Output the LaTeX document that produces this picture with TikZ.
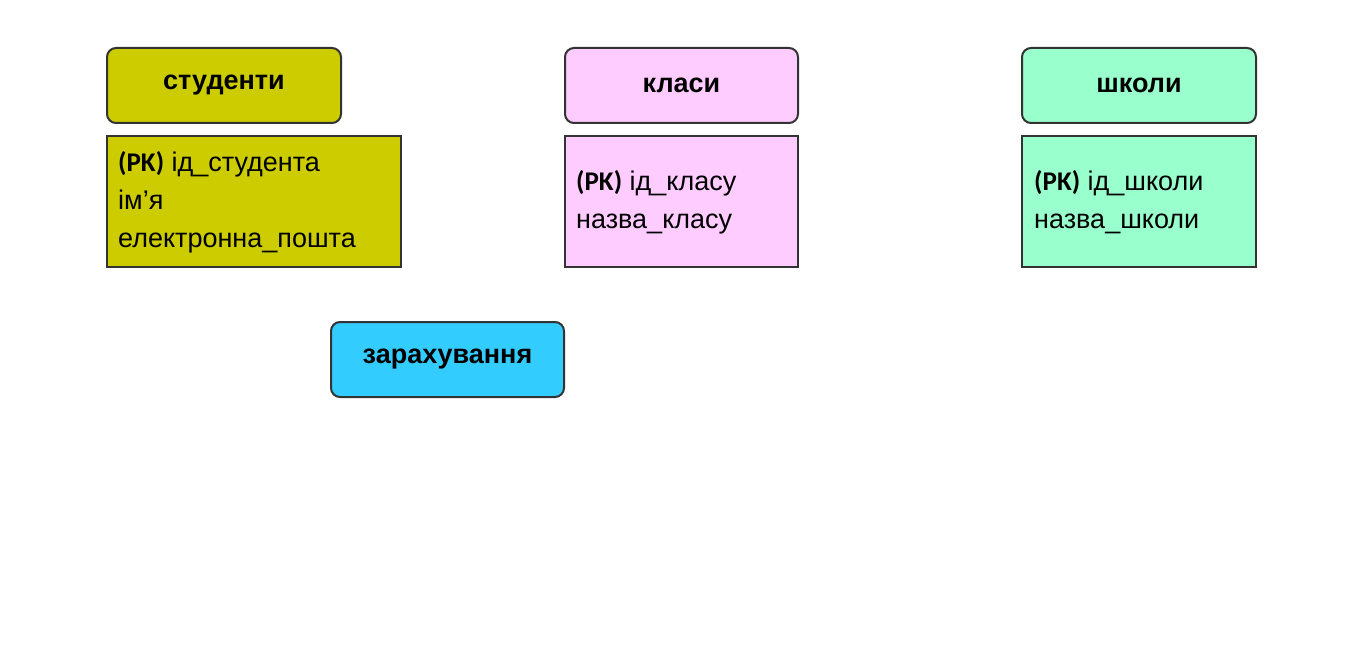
\documentclass[tikz,border=0pt]{standalone}
\usepackage{fontspec}
\setmainfont{Liberation Sans}
\newfontfamily\pkfont{Carlito}
\definecolor{cOl}{HTML}{CCCC00}
\definecolor{cPk}{HTML}{FFCCFF}
\definecolor{cGr}{HTML}{99FFCC}
\definecolor{cBl}{HTML}{33CCFF}
\begin{document}
\begin{tikzpicture}[x=1pt,y=-1pt,
  hdr/.style={draw=black!80,line width=2pt,rounded corners=9pt,font=\fontsize{27}{32}\selectfont\bfseries,align=center},
  bdy/.style={draw=black!80,line width=2pt,font=\fontsize{27}{38}\selectfont,align=left,anchor=north west,inner sep=0pt}]
\useasboundingbox (0,0) rectangle (1362,666);
\fill[white] (0,0) rectangle (1362,666);
% headers
\draw[hdr,fill=cOl] (107,48) rectangle (341,123) node[midway,draw=none] (hs) {студенти};
\draw[hdr,fill=cPk] (565,48) rectangle (798,123) node[midway,draw=none] (hk) {класи};
\draw[hdr,fill=cGr] (1022,48) rectangle (1256,123) node[midway,draw=none] (hsh) {школи};
\draw[hdr,fill=cBl] (331,322) rectangle (564,397) node[midway,draw=none] (hz) {зарахування};
% bodies
\draw[draw=black!80,line width=2pt,fill=cOl] (107,136) rectangle (401,267);
\draw[draw=black!80,line width=2pt,fill=cPk] (565,136) rectangle (798,267);
\draw[draw=black!80,line width=2pt,fill=cGr] (1022,136) rectangle (1256,267);
\node[anchor=west,font=\fontsize{27}{38}\selectfont,align=left,inner sep=0pt] (bs) at (118,202)
  {{\pkfont\bfseries (PK)} ід\_студента\\ім'я\\електронна\_пошта};
\node[anchor=west,font=\fontsize{27}{38}\selectfont,align=left,inner sep=0pt] (bk) at (576,202)
  {{\pkfont\bfseries (PK)} ід\_класу\\назва\_класу};
\node[anchor=west,font=\fontsize{27}{38}\selectfont,align=left,inner sep=0pt] (bsh) at (1034,202)
  {{\pkfont\bfseries (PK)} ід\_школи\\назва\_школи};
\end{tikzpicture}
\end{document}
